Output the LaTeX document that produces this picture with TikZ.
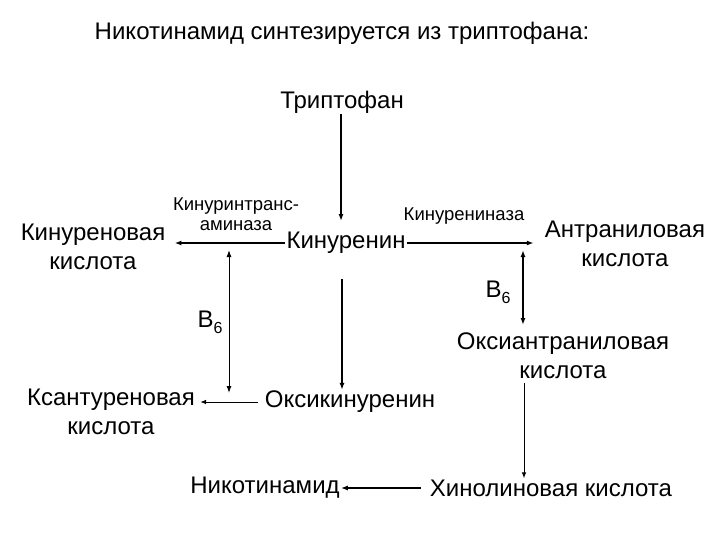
\documentclass[tikz,border=0pt]{standalone}
\usepackage{fontspec}
\setmainfont{Liberation Sans}
\usetikzlibrary{arrows.meta}
\tikzset{
  chem/.style={inner sep=1pt, align=center, font=\fontsize{24}{29}\selectfont},
  enz/.style={inner sep=1pt, align=center, font=\fontsize{18.5}{20}\selectfont},
  heading/.style={inner sep=1pt, font=\fontsize{24}{26}\selectfont},
  mainstep/.style={-{Latex[length=7pt,width=5pt]}, line width=1.6pt},
  sidestep/.style={-{Latex[length=6pt,width=4.5pt]}, line width=1pt},
  twoway/.style={{Latex[length=7pt,width=5pt]}-{Latex[length=7pt,width=5pt]}, line width=1.4pt}
}
\newcommand{\vitB}{B\raisebox{-0.45ex}{\fontsize{16}{16}\selectfont 6}}

\begin{document}
\begin{tikzpicture}[x=1pt, y=-1pt]
  \useasboundingbox (0,0) rectangle (720,540);
  \node[heading] (head) at (342,33) {Никотинамид синтезируется из триптофана:};
  \node[chem] (trp) at (342,102) {Триптофан};
  \node[chem] (kyn) at (346,243) {Кинуренин};
  \node[chem] (kynac) at (93,247) {Кинуреновая\\кислота};
  \node[chem] (anthr) at (625,244) {Антраниловая\\кислота};
  \node[enz] (tam) at (236,214) {Кинуринтранс-\\аминаза};
  \node[enz] (kase) at (464,216) {Кинурениназа};
  \node[chem] (b6l) at (210,322) {\vitB};
  \node[chem] (b6r) at (498,292) {\vitB};
  \node[chem] (oxan) at (563,356) {Оксиантраниловая\\кислота};
  \node[chem] (oxkyn) at (350,402) {Оксикинуренин};
  \node[chem] (xan) at (111,412) {Ксантуреновая\\кислота};
  \node[chem] (nic) at (265,488) {Никотинамид};
  \node[chem] (quin) at (551,488) {Хинолиновая кислота};
  \coordinate (ltop) at (229,250);
  \coordinate (lbot) at (229,393);
  \coordinate (rtop) at (523,250);
  \coordinate (rbot) at (523,325);
  \coordinate (qtop) at (524,383);
  % main chain
  \draw[mainstep, shorten >=10pt] (trp.south -| 341,0) -- (kyn.north -| 341,0);
  \draw[mainstep, shorten >=8pt] (kyn.west) -- (kyn.west -| kynac.east);
  \draw[mainstep, shorten >=10pt] (kyn.east) -- (kyn.east -| anthr.west);
  \draw[mainstep, shorten <=24pt] (kyn.south -| 342,0) -- (oxkyn.north -| 342,0);
  \draw[sidestep, shorten <=6pt, shorten >=4pt] (oxkyn.west) -- (oxkyn.west -| xan.east);
  \draw[sidestep] (qtop) -- (qtop |- quin.north);
  \draw[mainstep, line width=1.3pt, shorten <=8pt] (quin.west) -- (nic.east);
  % B6 steps
  \draw[twoway, line width=1pt] (ltop) -- (lbot);
  \draw[twoway] (rtop) -- (rbot);
\end{tikzpicture}
\end{document}
